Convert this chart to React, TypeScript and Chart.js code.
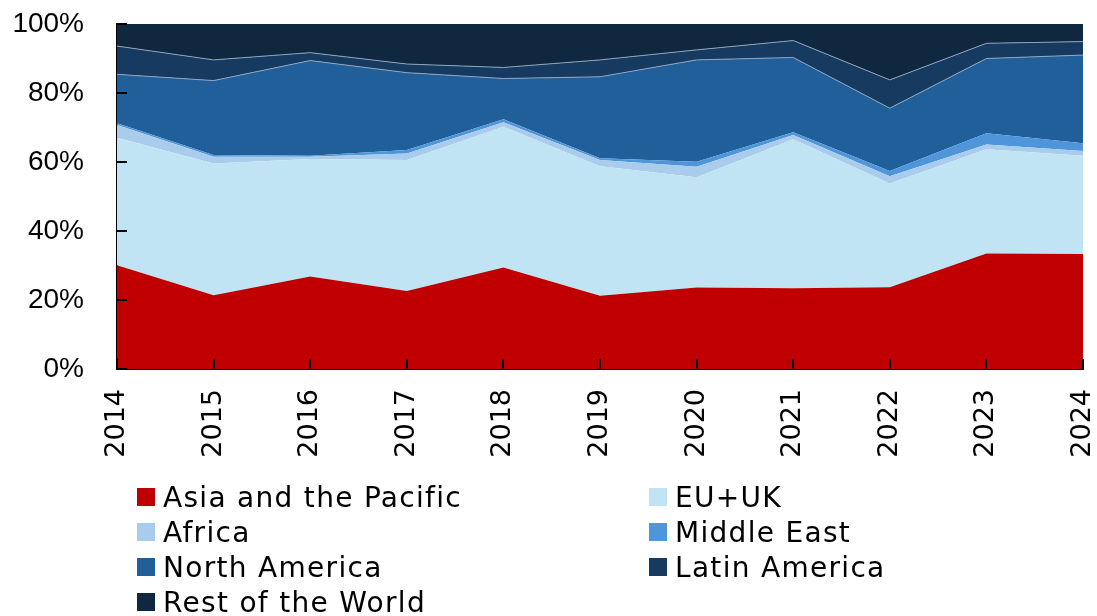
import React, { useEffect, useRef } from "react";
import { Chart, registerables } from "chart.js";

Chart.register(...registerables);

const years = ["2014", "2015", "2016", "2017", "2018", "2019", "2020", "2021", "2022", "2023", "2024"];
const asiaPacific = [30.1, 21.4, 26.8, 22.6, 29.4, 21.2, 23.6, 23.4, 23.7, 33.5, 33.3];
const euUk = [36.9, 38.2, 34.1, 38.0, 40.8, 37.6, 32.0, 43.2, 30.1, 30.2, 28.5];
const africa = [3.7, 1.9, 0.6, 1.9, 1.3, 1.8, 3.0, 1.2, 2.1, 1.4, 1.4];
const middleEast = [0.5, 0.5, 0.3, 1.0, 0.9, 0.5, 1.5, 0.8, 1.5, 3.2, 2.2];
const northAmerica = [14.2, 21.6, 27.6, 22.4, 11.8, 23.6, 29.5, 21.7, 18.2, 21.7, 25.6];
const latinAmerica = [8.2, 6.0, 2.3, 2.5, 3.2, 4.9, 2.9, 4.9, 8.2, 4.4, 3.9];
const restOfWorld = [6.4, 10.4, 8.3, 11.6, 12.6, 10.4, 7.5, 4.8, 16.2, 5.6, 5.1];
const yTicks = [0, 20, 40, 60, 80, 100];

const seriesNames = ["Asia and the Pacific", "EU+UK", "Africa", "Middle East", "North America", "Latin America", "Rest of the World"];
const seriesData = [asiaPacific, euUk, africa, middleEast, northAmerica, latinAmerica, restOfWorld];
const seriesColors = ["#C00000", "#C1E4F4", "#A9CBEC", "#4E95D9", "#215F9A", "#173B60", "#10283F"];
const seriesBorders = ["#C00000", "#C1E4F4", "#A9CBEC", "#4E95D9", "rgba(150,170,195,0.9)", "rgba(150,170,195,0.9)", "rgba(0,0,0,0)"];

const legendOrder = [
  [0, 1],
  [2, 3],
  [4, 5],
  [6],
];

const FONT = "'Liberation Sans', Arial, sans-serif";
const WIDE_FONT = "'DejaVu Sans', sans-serif";

const innerTicks = {
  id: "innerTicks",
  afterDraw(chart: any) {
    const ctx = chart.ctx;
    const x = chart.scales.x;
    const y = chart.scales.y;
    const area = chart.chartArea;
    ctx.save();
    ctx.strokeStyle = "#000";
    ctx.lineWidth = 2;
    ctx.beginPath();
    y.ticks.forEach((t: any) => {
      const py = Math.round(y.getPixelForValue(t.value));
      ctx.moveTo(area.left, py);
      ctx.lineTo(area.left + 10, py);
    });
    years.forEach((_, i) => {
      const px = Math.round(x.getPixelForValue(i));
      ctx.moveTo(px, area.bottom);
      ctx.lineTo(px, area.bottom - 10);
    });
    ctx.stroke();
    ctx.restore();
  },
};

export default function App() {
  const canvasRef = useRef<HTMLCanvasElement | null>(null);

  useEffect(() => {
    document.body.style.margin = "0";
    const canvas = canvasRef.current;
    if (!canvas) return;
    const chart = new Chart(canvas, {
      type: "line",
      data: {
        labels: years,
        datasets: seriesNames.map((name, i) => ({
          label: name,
          data: seriesData[i],
          backgroundColor: seriesColors[i],
          borderColor: seriesBorders[i],
          borderWidth: i >= 4 ? 1 : 0,
          pointRadius: 0,
          tension: 0,
          fill: i === 0 ? "origin" : "-1",
        })),
      },
      options: {
        responsive: false,
        animation: false,
        devicePixelRatio: 1,
        layout: { padding: { left: 0, top: 24, right: 14, bottom: 147 } },
        plugins: { legend: { display: false }, tooltip: { enabled: false } },
        scales: {
          x: {
            offset: false,
            grid: { display: false, drawTicks: false },
            border: { display: true, color: "#000", width: 2 },
            ticks: {
              color: "#000",
              font: { family: WIDE_FONT, size: 27 },
              maxRotation: 90,
              minRotation: 90,
              padding: 20,
              autoSkip: false,
            },
            afterFit(scale: any) {
              scale.height = 100;
              scale.paddingLeft = 0;
              scale.paddingRight = 0;
            },
          },
          y: {
            stacked: true,
            min: 0,
            max: 100,
            grid: { display: false, drawTicks: false },
            border: { display: true, color: "#000", width: 2 },
            afterBuildTicks(scale: any) {
              scale.ticks = yTicks.map((v) => ({ value: v }));
            },
            ticks: {
              color: "#000",
              font: { family: FONT, size: 28 },
              padding: 33,
              callback: (v: any) => `${v}%`,
            },
            afterFit(scale: any) {
              scale.width = 117;
              scale.paddingTop = 0;
              scale.paddingBottom = 0;
            },
          },
        },
      },
      plugins: [innerTicks],
    });
    return () => chart.destroy();
  }, []);

  return (
    <div style={{ position: "fixed", left: 0, top: 0, width: 1097, height: 616, background: "#fff" }}>
      <canvas ref={canvasRef} width={1097} height={616} style={{ position: "absolute", left: 0, top: 0 }} />
      {legendOrder.map((row, r) =>
        row.map((idx, c) => (
          <div
            key={idx}
            style={{
              position: "absolute",
              left: c === 0 ? 137 : 649,
              top: 497 + r * 35 - 18,
              height: 36,
              display: "flex",
              alignItems: "center",
              fontFamily: WIDE_FONT,
              fontSize: 28,
              letterSpacing: "1.3px",
              color: "#000",
              whiteSpace: "nowrap",
            }}
          >
            <span style={{ display: "inline-block", width: 18, height: 18, background: seriesColors[idx], marginRight: 8 }} />
            <span>{seriesNames[idx]}</span>
          </div>
        ))
      )}
    </div>
  );
}
